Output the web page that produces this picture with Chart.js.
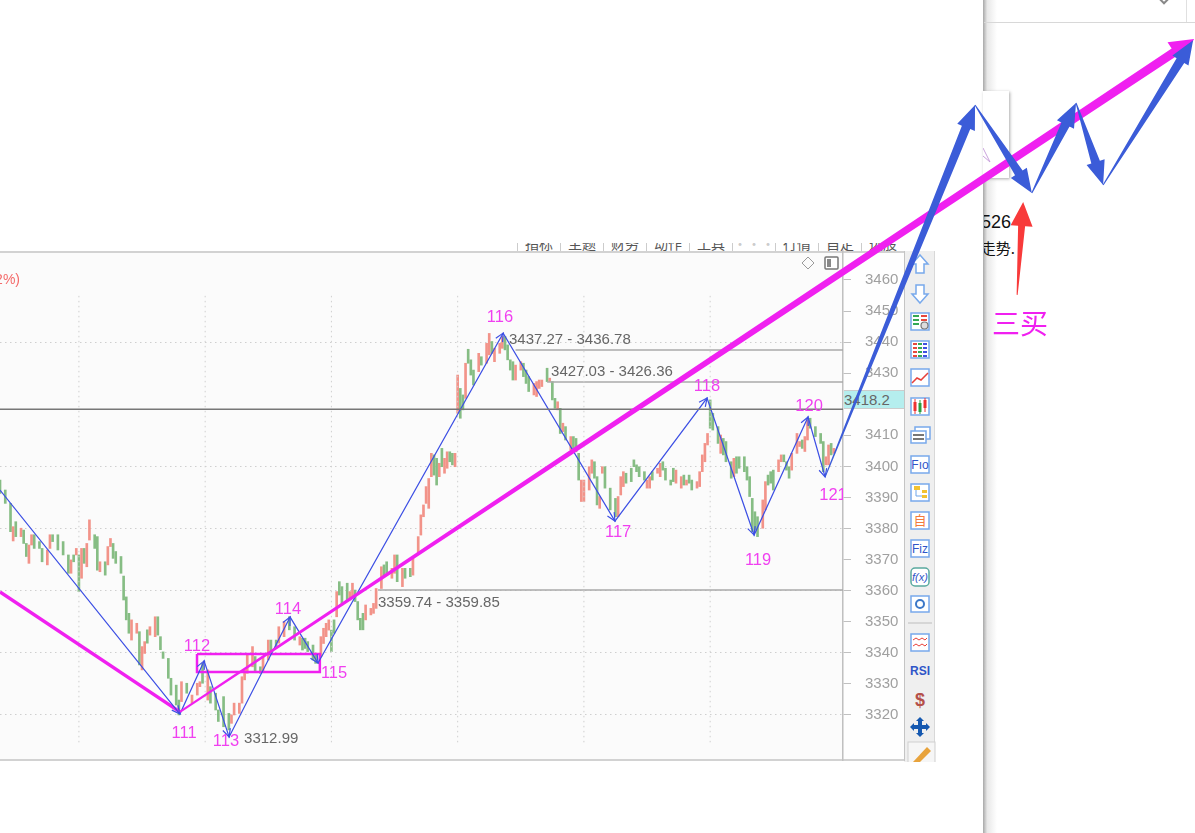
<!DOCTYPE html>
<html lang="zh">
  <head>
    <meta charset="UTF-8" />
    <title>Chart</title>
    <script src="https://cdn.jsdelivr.net/npm/chart.js@4/dist/chart.umd.js"></script>
    <style>
      * {
        box-sizing: border-box;
      }

      body {
        margin: 0;
        width: 1195px;
        height: 833px;
        overflow: hidden;
        position: relative;
        background: #fff;
        font-family: "Liberation Sans", Arial, sans-serif;
      }

      #panel {
        position: absolute;
        left: 0;
        top: 251px;
        width: 905px;
        height: 510px;
        background: #fbfbfb;
        border-top: 2px solid #d2d2d2;
        border-bottom: 2px solid #d2d2d2;
      }

      #axisbg {
        position: absolute;
        left: 844px;
        top: 253px;
        width: 60px;
        height: 506px;
        background: #fefefe;
      }

      #tabs {
        position: absolute;
        left: 517px;
        top: 243px;
        width: 388px;
        height: 8px;
        overflow: hidden;
        display: flex;
      }

      #tabs span {
        width: 43px;
        height: 8px;
        border-left: 1px solid #ccc;
        font: 14px "Noto Sans CJK SC";
        color: #555;
        text-align: center;
        line-height: 0;
      }

      #price {
        position: absolute;
        left: 844px;
        top: 390px;
        width: 60px;
        height: 19px;
        background: #b5eeee;
        border-top: 1px solid #ccc;
        border-bottom: 1px solid #ccc;
        color: #666;
        font-size: 15px;
        line-height: 18px;
        white-space: nowrap;
      }

      #edge {
        position: absolute;
        left: 983px;
        top: 0;
        width: 14px;
        height: 833px;
        background: linear-gradient(to right, #a8a8a8, #e8e8e8 30%, #fff);
      }

      #topline {
        position: absolute;
        left: 984px;
        top: 22px;
        width: 211px;
        height: 1px;
        background: #d8d8d8;
      }

      #topcell {
        position: absolute;
        left: 1186px;
        top: 0;
        width: 1px;
        height: 22px;
        background: #e0e0e0;
      }

      #diamond {
        position: absolute;
        left: 1160px;
        top: -5px;
        width: 8px;
        height: 8px;
        border: 2px solid #888;
        transform: rotate(45deg);
      }

      #popup {
        position: absolute;
        left: 983px;
        top: 91px;
        width: 26px;
        height: 87px;
        background: #fff;
        box-shadow: 1px 1px 3px #aaa;
      }

      #note1,
      #note2 {
        position: absolute;
        left: 984px;
        overflow: hidden;
        white-space: nowrap;
        color: #111;
      }

      #note1 span,
      #note2 span {
        position: absolute;
        right: 0;
      }

      #note1 {
        top: 212px;
        height: 22px;
        width: 27px;
        font: 18px "Liberation Sans";
      }

      #note2 {
        top: 237px;
        height: 22px;
        width: 31px;
        font: 15px "Noto Sans CJK SC";
      }

      #toolbar {
        position: absolute;
        left: 904px;
        top: 251px;
      }

      canvas {
        position: absolute;
        left: 0;
        top: 0;
      }
    </style>
  </head>
  <body>
    <div id="tabs">
      <span>指标</span><span>主题</span><span>财务</span><span>动作</span><span>工具</span><span style="color: #ccc">···</span><span>行情</span><span>自定</span><span>选股</span>
    </div>
    <div id="panel"></div>
    <div id="axisbg"></div>
    <div id="price">3418.2</div>

    <svg id="toolbar" width="32" height="511" viewBox="904 251 32 511">
      <rect x="904" y="251" width="31" height="511" fill="#efefef" />
      <line x1="904.5" y1="251" x2="904.5" y2="761" stroke="#c4c4c4" />
      <line x1="934.5" y1="251" x2="934.5" y2="761" stroke="#d8d8d8" />
      <g fill="#fff" stroke="#78a9ec" stroke-width="1.5">
        <path d="M920 255 L928 264 L924 264 L924 273 L916 273 L916 264 L912 264 Z" />
        <path d="M920 303 L928 294 L924 294 L924 285 L916 285 L916 294 L912 294 Z" />
        <rect x="911" y="313" width="18" height="17" />
        <rect x="911" y="341" width="18" height="17" />
        <rect x="911" y="369" width="18" height="17" />
        <rect x="911" y="398" width="18" height="17" />
        <rect x="915" y="427" width="15" height="12" />
        <rect x="911" y="431" width="15" height="12" />
        <rect x="911" y="456" width="18" height="17" />
        <rect x="911" y="484" width="18" height="17" />
        <rect x="911" y="512" width="18" height="17" />
        <rect x="911" y="540" width="18" height="17" />
        <rect x="911" y="568" width="18" height="18" rx="4" stroke="#5aa99f" />
        <rect x="911" y="596" width="18" height="16" />
        <rect x="911" y="634" width="18" height="17" />
      </g>
      <g stroke-width="2" fill="none">
        <path d="M913 316 h6 M913 320 h6 M913 324 h6" stroke="#35a853" />
        <path d="M921 316 h6 M921 320 h6" stroke="#e6483d" />
        <circle cx="924.5" cy="325.5" r="3.5" fill="#ddd" stroke="#777" stroke-width="1.2" />
        <path d="M913 344 h4 M913 348 h4 M913 352 h4 M913 356 h4" stroke="#e6483d" />
        <path d="M918 344 h4 M918 348 h4 M918 352 h4 M918 356 h4" stroke="#35a853" />
        <path d="M923 344 h4 M923 348 h4 M923 352 h4 M923 356 h4" stroke="#3f51e0" />
      </g>
      <path d="M912 383 L917 378 L921 380 L928 373" fill="none" stroke="#e8403a" stroke-width="1.5" />
      <path d="M915 402 v9 M925 400 v8" stroke="#e33" stroke-width="3" />
      <path d="M920 403 v9" stroke="#2a9d3f" stroke-width="3" />
      <path d="M915 399 v15 M925 398 v14" stroke="#e33" />
      <path d="M920 400 v14" stroke="#2a9d3f" />
      <path d="M913 435 h11 M913 439 h11" stroke="#777" stroke-width="2" />
      <rect x="914" y="486" width="6" height="4" fill="#f2c230" />
      <rect x="922" y="490" width="5" height="3" fill="#f2c230" />
      <rect x="922" y="495" width="5" height="3" fill="#f2c230" />
      <path d="M916 490 v6 h6" fill="none" stroke="#6fa5ea" />
      <path d="M913 640 l3 -2 l3 2 l3 -2 l3 2 l2 -2 M913 646 l3 -2 l3 2 l3 -2 l3 2 l2 -2" fill="none" stroke="#e8403a" />
      <circle cx="920" cy="604" r="4" fill="#fff" stroke="#3c78c8" stroke-width="2" />
      <g text-anchor="middle" font-family="Liberation Sans" fill="#2f55c8">
        <text x="920" y="469" font-size="12">Fıo</text>
        <text x="920" y="553" font-size="12">Fiz</text>
        <text x="920" y="581" font-size="11" font-style="italic">f(x)</text>
        <text x="920" y="675" font-size="12" font-weight="bold">RSI</text>
        <text x="920" y="706" font-size="18" font-weight="bold" fill="#b5504a">$</text>
      </g>
      <text x="920" y="525" text-anchor="middle" font-family="Noto Sans CJK SC" font-size="13" fill="#f47a3c">自</text>
      <line x1="908" y1="623" x2="932" y2="623" stroke="#bdbdbd" />
      <path d="M920 717 l4 4 h-2 v4 h4 v-2 l4 4 l-4 4 v-2 h-4 v4 h2 l-4 4 l-4 -4 h2 v-4 h-4 v2 l-4 -4 l4 -4 v2 h4 v-4 h-2 Z" fill="#1558b0" />
      <rect x="908" y="742" width="27" height="24" fill="#f6f6f6" stroke="#cfcfcf" />
      <path d="M913 762 L927 747 L931 751 L918 764 Z" fill="#e8a33c" />
    </svg>

    <svg style="position: absolute; left: 801px; top: 256px" width="40" height="14">
      <path d="M7 1 L13 7 L7 13 L1 7 Z" fill="none" stroke="#9a9a9a" />
      <rect x="24" y="1" width="13" height="12" rx="1" fill="#fff" stroke="#777" stroke-width="1.5" />
      <rect x="26" y="3" width="4" height="8" fill="#888" />
    </svg>

    <div id="edge"></div>
    <div id="topline"></div>
    <div id="topcell"></div>
    <div id="diamond"></div>
    <div id="popup"></div>
    <svg style="position: absolute; left: 983px; top: 140px" width="12" height="30">
      <path d="M0 8 L7 22 L0 16" fill="none" stroke="#c9a2dc" />
    </svg>
    <div id="note1"><span>526</span></div>
    <div id="note2"><span>走势.</span></div>

    <canvas id="chart" width="1195" height="833"></canvas>

    <script>
      // 48 bars per grid period, slot is the bar number on the time axis
      const slotMax = 320.5;
      const yMin = 3305.5;
      const yMax = 3469.33;

      const barSlots = [
        0, 2, 4, 5, 6, 8, 9, 10, 11, 12, 13, 15, 16, 18, 19, 20, 22, 24, 26, 27, 28, 29, 30, 31, 32, 33, 34, 36, 37, 38,
        40, 41, 42, 43, 44, 46, 47, 48, 49, 50, 52, 53, 54, 55, 56, 57, 59, 60, 61, 62, 64, 65, 67, 68, 69, 71, 73, 75, 76, 77,
        79, 80, 82, 83, 85, 87, 88, 89, 91, 92, 93, 94, 96, 97, 99, 100, 102, 103, 105, 106, 108, 110, 112, 114,
        115, 116, 117, 119, 120, 122, 123, 124, 125, 126, 127, 128, 129, 130, 132, 133, 134, 135, 136, 137, 138, 139, 141, 142, 143, 145,
        146, 147, 149, 150, 151, 153, 154, 156, 157, 159, 160, 161, 162, 163, 164, 165, 166, 167, 168, 169, 170, 171, 172, 173, 174, 175, 176, 177, 178, 179,
        180, 182, 183, 185, 186, 187, 188, 190, 191, 192, 193, 194, 195, 196, 198, 199, 200, 201, 203, 204, 205, 206, 208, 209, 210, 211, 212, 213, 214, 215,
        217, 218, 219, 220, 221, 222, 224, 225, 226, 227, 228, 229, 230, 232, 234, 235, 236, 237, 238, 240, 241, 242, 243, 245, 246, 247, 248, 250, 251, 252,
        253, 255, 256, 257, 259, 260, 261, 262, 263, 265, 266, 267, 268, 269, 270, 271, 273, 274, 275, 276, 278, 279, 280, 281, 283, 284, 285, 286, 287, 288,
        290, 291, 292, 293, 294, 296, 297, 298, 299, 300, 301, 303, 304, 305, 306, 307, 308, 310, 312, 313, 314, 315, 316, 317
      ];
      const barHighs = [
        3395.6, 3392.4, 3388.1, 3380.6, 3382.2, 3380.1, 3379.5, 3375.2, 3374.7, 3378, 3378, 3375.8, 3373.6, 3373.1, 3378, 3378, 3378, 3375.8, 3371.5, 3369.9, 3371.5, 3373.6, 3371.5, 3373.6, 3373.6, 3375.2, 3382.8, 3378, 3377.4, 3369.3,
        3369.3, 3374.2, 3376.8, 3375.2, 3372.6, 3371, 3364.7, 3358, 3352.7, 3350.6, 3349.5, 3346.8, 3342, 3343.6, 3347.4, 3348.4, 3351.6, 3351.6, 3345.2, 3340.3, 3338.2, 3331.8, 3329.6, 3324.8, 3330.7, 3330.2, 3326.4, 3330.2, 3330.7, 3336.6,
        3334.5, 3329.1, 3327, 3321.6, 3325.9, 3320.5, 3320, 3323.8, 3323.8, 3332.3, 3334.5, 3339.3, 3342, 3338.8, 3335.5, 3338.8, 3344.1, 3344.1, 3344.1, 3348.4, 3350, 3351.6, 3348.4, 3345.2,
        3344.7, 3344.7, 3343.6, 3342.5, 3339.3, 3345.2, 3347.9, 3349.5, 3350.6, 3347.3, 3350.6, 3359.7, 3362.9, 3361.3, 3362.4, 3359.7, 3362.4, 3360.2, 3356.5, 3351.1, 3352.7, 3355.4, 3354.3, 3355.9, 3360.7, 3367.7,
        3368.3, 3369.3, 3367.2, 3371.5, 3371.5, 3367.2, 3367.2, 3367.2, 3370.4, 3377.4, 3384.4, 3387.6, 3393.5, 3396.1, 3404.2, 3403.7, 3402.6, 3401, 3405.8, 3402.6, 3404.7, 3404.7, 3404.2, 3404.2, 3429.4, 3425.1, 3423, 3433.2, 3437.7, 3434.3,
        3431, 3436.4, 3435.3, 3439.6, 3442.8, 3440.2, 3438, 3439.6, 3441.8, 3441.8, 3439.1, 3434.3, 3433.7, 3432.6, 3433.7, 3433.2, 3431, 3428.9, 3426.7, 3427.3, 3427.8, 3427.8, 3431.6, 3428.4, 3427.3, 3421.9, 3420.8, 3418.7, 3413.9, 3412.8,
        3409.6, 3409.6, 3409, 3404.2, 3395.6, 3395.6, 3399.9, 3402.1, 3401.5, 3396.7, 3390.3, 3399.9, 3399.9, 3393, 3389.7, 3390.3, 3396.7, 3398.3, 3397.8, 3399.4, 3402.1, 3400.5, 3399.9, 3398.3, 3395.6, 3396.7, 3398.3, 3399.4, 3401, 3401.5,
        3399.4, 3395.6, 3399.4, 3398.8, 3396.7, 3397.2, 3395.6, 3397.2, 3395.6, 3395.1, 3398.3, 3403.7, 3407.4, 3410.6, 3421.4, 3417.1, 3412.8, 3410.1, 3409, 3408, 3401.5, 3402.6, 3403.1, 3403.1, 3403.1, 3399.9, 3396.7, 3389.7, 3385.4, 3383.8,
        3389.2, 3395.1, 3397.2, 3398.3, 3398.8, 3402.1, 3403.7, 3403.7, 3401.5, 3399.9, 3404.2, 3410.6, 3408, 3408.5, 3409.6, 3415, 3415.5, 3412.8, 3410.6, 3408, 3403.1, 3406.9, 3407.4, 3405.8
      ];
      const barLows = [
        3391.3, 3388.1, 3379, 3376, 3377.4, 3377.4, 3375.2, 3371, 3368.8, 3374.7, 3373.6, 3373.6, 3369.3, 3368.3, 3373.6, 3375.8, 3373.1, 3371.5, 3365.6, 3365.6, 3369.3, 3371.5, 3359.7, 3364, 3368.8, 3367.7, 3376.3, 3373.6, 3366.6, 3366.1,
        3365, 3368.3, 3374.2, 3370.4, 3368.8, 3365.6, 3357, 3350.6, 3346.3, 3344.1, 3346.3, 3336.1, 3334.5, 3339.8, 3343.1, 3345.7, 3345.2, 3345.7, 3341, 3338.2, 3331.8, 3326.4, 3323.2, 3320, 3324.3, 3327, 3323.8, 3326.4, 3329.1, 3330.2,
        3324.8, 3323.8, 3321.6, 3317.9, 3316.2, 3315.2, 3317.3, 3320, 3320.5, 3323.8, 3331.3, 3333.4, 3335.5, 3334, 3333.4, 3334, 3337.7, 3339.8, 3342, 3343.1, 3345.2, 3347.4, 3344.1, 3342.5,
        3340.9, 3341.4, 3340.4, 3337.7, 3336.6, 3338.8, 3343, 3345.2, 3347.3, 3340.4, 3346.3, 3351.6, 3358.6, 3355.4, 3357, 3357, 3358.1, 3356.5, 3350.6, 3347.4, 3347.4, 3350.6, 3352.2, 3352.7, 3354.3, 3360.7,
        3364.5, 3365.6, 3364, 3365.6, 3362.9, 3361.3, 3364, 3364.5, 3365, 3372, 3377.9, 3383.8, 3388.1, 3386.5, 3396.7, 3397.2, 3394, 3396.7, 3399.9, 3397.8, 3399.4, 3401.5, 3400.5, 3399.9, 3417.1, 3415.5, 3418.2, 3421.9, 3433.2, 3429.4,
        3426.2, 3430.5, 3432.6, 3433.2, 3435.9, 3436.4, 3433.7, 3436.4, 3438, 3437.5, 3434.3, 3431, 3427.8, 3427.8, 3431, 3428.9, 3426.7, 3424.1, 3423, 3422.5, 3425.1, 3425.7, 3427.3, 3427.3, 3421.4, 3418.7, 3418.2, 3410.6, 3411.2, 3408.5,
        3405.3, 3404.7, 3404.7, 3395.6, 3388.7, 3388.7, 3392.4, 3397.8, 3396.2, 3387.6, 3386.5, 3397.8, 3393, 3386, 3383.8, 3383.8, 3390.8, 3393.5, 3394.6, 3395.1, 3399.9, 3398.3, 3396.7, 3395.6, 3393, 3393, 3395.6, 3397.8, 3396.7, 3398.8,
        3395.6, 3394, 3395.1, 3394.6, 3393, 3394, 3394, 3394.6, 3392.4, 3393, 3393.5, 3398.3, 3401.5, 3406.9, 3412.3, 3411.7, 3407.4, 3404.2, 3403.7, 3401.5, 3396.2, 3396.7, 3397.8, 3399.4, 3398.3, 3395.6, 3390.3, 3379, 3379.5, 3377.4,
        3380.1, 3386, 3394, 3394.6, 3392.4, 3398.3, 3401.5, 3401.5, 3398.8, 3396.2, 3398.8, 3404.2, 3406.4, 3405.8, 3404.8, 3408.5, 3412.3, 3409.6, 3407.4, 3398.3, 3400.5, 3400.5, 3403.7, 3404.2
      ];
      // 1 = closed up (red), 0 = closed down (green)
      const barUps = [
        0, 0, 0, 1, 0, 1, 0, 0, 1, 1, 0, 0, 0, 1, 1, 0, 0, 0, 0, 1, 0, 1, 0, 1, 0, 1, 1, 0, 0, 1,
        0, 1, 1, 0, 0, 0, 0, 0, 0, 1, 1, 0, 1, 1, 0, 1, 1, 0, 0, 0, 0, 0, 0, 0, 1, 0, 1, 1, 1, 0,
        1, 0, 0, 0, 0, 0, 1, 1, 1, 1, 1, 1, 1, 0, 0, 1, 1, 0, 0, 1, 1, 0, 0, 1,
        0, 0, 0, 0, 0, 1, 1, 1, 1, 0, 0, 1, 0, 0, 0, 1, 1, 0, 0, 0, 0, 1, 1, 1, 1, 1,
        0, 0, 1, 1, 0, 1, 0, 0, 1, 1, 1, 1, 1, 1, 1, 0, 0, 1, 0, 1, 1, 0, 0, 1, 1, 0, 0, 1, 0, 0,
        0, 1, 0, 1, 1, 0, 1, 1, 1, 0, 0, 0, 0, 1, 1, 0, 0, 0, 1, 1, 1, 1, 0, 1, 0, 0, 1, 0, 1, 0,
        1, 0, 0, 0, 1, 1, 1, 1, 0, 0, 1, 1, 0, 0, 0, 1, 1, 1, 0, 0, 0, 0, 0, 0, 1, 1, 0, 1, 1, 0,
        0, 0, 0, 1, 1, 0, 1, 0, 0, 1, 1, 1, 1, 1, 0, 0, 0, 1, 0, 0, 0, 1, 0, 0, 0, 0, 0, 0, 0, 0,
        1, 1, 0, 0, 0, 1, 1, 0, 0, 0, 1, 1, 1, 0, 1, 1, 0, 0, 0, 0, 1, 1, 0, 1
      ];

      const yTicks = [3460, 3450, 3440, 3430, 3410, 3400, 3390, 3380, 3370, 3360, 3350, 3340, 3330, 3320];
      const gridPrices = [3440, 3400, 3380, 3360, 3340, 3320];
      const gridSlots = [30, 78, 126, 174, 222, 270];
      const gridTop = 3454.9;
      const gridBottom = 3310.3;

      // the wave the blue line follows, 111 to 121
      const waveSlots = [0, 68.4, 77.6, 87.1, 110.3, 120.9, 191.3, 233.8, 268.8, 286.7, 307.2, 313.7];
      const wavePrices = [3392.4, 3320.3, 3337.4, 3312.9, 3351.5, 3336.7, 3442.9, 3382.4, 3422, 3377.9, 3415.9, 3396.6];

      const waveNames = ["111", "112", "113", "114", "115", "116", "117", "118", "119", "120", "121"];
      const nameSlots = [70, 74.9, 85.9, 109.5, 127, 190.1, 235, 268.8, 288.2, 307.6, 316.7];
      const namePrices = [3313.9, 3342.2, 3311.6, 3354.1, 3333.5, 3447.8, 3378.9, 3425.6, 3369.6, 3419.4, 3390.5];

      const levelPrices = [3437.5, 3427.2, 3360.2];
      const levelSlots = [196, 208, 143.7];
      const lastPrice = 3418.4;

      const noteTexts = ["3437.27 - 3436.78", "3427.03 - 3426.36", "3359.74 - 3359.85", "3312.99"];
      const noteSlots = [193.5, 209.5, 143.7, 92.8];
      const notePrices = [3440.7, 3430.4, 3356, 3312.3];

      const boxSlots = [74.9, 121.6];
      const boxPrices = [3339.6, 3333.8];

      const pinkLeadSlots = [0, 68.4];
      const pinkLeadPrices = [3359.6, 3321];
      const pinkSlots = [68.4, 454];
      const pinkPrices = [3321, 3537.6];

      // the forecast drawn by hand over the screenshot
      const planSlots = [313.7, 370.7, 392.3, 409.1, 419.4, 453.6];
      const planPrices = [3396.6, 3516.3, 3488, 3517, 3490.6, 3537.2];
      const buySlots = [386.7, 389];
      const buyPrices = [3455.2, 3485.1];

      function lineSet(xs, ys, color, width, dash) {
        return {
          type: "line",
          data: xs.map((x, i) => ({ x: x, y: ys[i] })),
          borderColor: color,
          borderWidth: width,
          borderDash: dash || [],
          pointRadius: 0,
          tension: 0,
          clip: false,
          order: 1
        };
      }

      const datasets = [
        {
          type: "bar",
          data: barSlots.map((s, i) => ({ x: s, y: [barLows[i], barHighs[i]] })),
          backgroundColor: barUps.map(u => (u ? "#f29389" : "#86bd84")),
          barThickness: 2,
          grouped: false,
          order: 5
        },
        lineSet([0, slotMax], [lastPrice, lastPrice], "#777", 1.5),
        lineSet(waveSlots, wavePrices, "#3c4fe4", 1.2),
        lineSet(pinkLeadSlots, pinkLeadPrices, "#f020f0", 3.5),
        lineSet(
          [boxSlots[0], boxSlots[1], boxSlots[1], boxSlots[0], boxSlots[0]],
          [boxPrices[0], boxPrices[0], boxPrices[1], boxPrices[1], boxPrices[0]],
          "#f020f0",
          2.5
        )
      ];
      gridSlots.forEach(s => {
        datasets.push(lineSet([s, s], [gridTop, gridBottom], "#cfcfcf", 1, [1.5, 3.5]));
      });
      levelPrices.forEach((p, i) => {
        datasets.push(lineSet([levelSlots[i], slotMax], [p, p], "#aaa", 1.5));
      });

      function taper(ctx, x0, y0, x1, y1, w0, w1, headLen, headW, color) {
        const len = Math.hypot(x1 - x0, y1 - y0);
        const ux = (x1 - x0) / len;
        const uy = (y1 - y0) / len;
        const bx = x1 - ux * headLen;
        const by = y1 - uy * headLen;
        ctx.fillStyle = color;
        ctx.beginPath();
        ctx.moveTo(x0 - (uy * w0) / 2, y0 + (ux * w0) / 2);
        ctx.lineTo(bx - (uy * w1) / 2, by + (ux * w1) / 2);
        ctx.lineTo(bx - (uy * headW) / 2, by + (ux * headW) / 2);
        ctx.lineTo(x1, y1);
        ctx.lineTo(bx + (uy * headW) / 2, by - (ux * headW) / 2);
        ctx.lineTo(bx + (uy * w1) / 2, by - (ux * w1) / 2);
        ctx.lineTo(x0 + (uy * w0) / 2, y0 - (ux * w0) / 2);
        ctx.closePath();
        ctx.fill();
      }

      function openHead(ctx, x0, y0, x1, y1) {
        const a = Math.atan2(y1 - y0, x1 - x0);
        ctx.strokeStyle = "#3c4fe4";
        ctx.lineWidth = 1.2;
        ctx.beginPath();
        ctx.moveTo(x1 - 9 * Math.cos(a - 0.45), y1 - 9 * Math.sin(a - 0.45));
        ctx.lineTo(x1, y1);
        ctx.lineTo(x1 - 9 * Math.cos(a + 0.45), y1 - 9 * Math.sin(a + 0.45));
        ctx.stroke();
      }

      const overlay = {
        id: "overlay",
        afterDatasetsDraw(chart) {
          const ctx = chart.ctx;
          const px = chart.scales.x;
          const py = chart.scales.y;
          const X = v => px.getPixelForValue(v);
          const Y = v => py.getPixelForValue(v);
          ctx.save();

          for (let i = 1; i < waveSlots.length; i++) {
            openHead(ctx, X(waveSlots[i - 1]), Y(wavePrices[i - 1]), X(waveSlots[i]), Y(wavePrices[i]));
          }

          ctx.textBaseline = "middle";
          ctx.font = "15px 'Liberation Sans'";
          ctx.fillStyle = "#666";
          ctx.textAlign = "left";
          noteTexts.forEach((t, i) => ctx.fillText(t, X(noteSlots[i]), Y(notePrices[i])));

          ctx.save();
          ctx.beginPath();
          ctx.rect(0, 0, chart.chartArea.right, 833);
          ctx.clip();
          ctx.font = "16.5px 'Liberation Sans'";
          ctx.fillStyle = "#f040f0";
          ctx.textAlign = "center";
          waveNames.forEach((t, i) => ctx.fillText(t, X(nameSlots[i]), Y(namePrices[i])));
          ctx.restore();

          ctx.font = "14px 'Liberation Sans'";
          ctx.fillStyle = "#f46a6a";
          ctx.textAlign = "right";
          ctx.fillText("2%)", 20, 280);

          taper(ctx, X(pinkSlots[0]), Y(pinkPrices[0]), X(pinkSlots[1]), Y(pinkPrices[1]), 2, 9, 24, 24, "#f020f0");
          for (let i = 1; i < planSlots.length; i++) {
            taper(
              ctx,
              X(planSlots[i - 1]),
              Y(planPrices[i - 1]),
              X(planSlots[i]),
              Y(planPrices[i]),
              1,
              9,
              24,
              19,
              "#3b5cd8"
            );
          }
          taper(ctx, X(buySlots[0]), Y(buyPrices[0]), X(buySlots[1]), Y(buyPrices[1]), 1, 7, 24, 22, "#f83a3a");

          ctx.font = "28px 'Noto Sans CJK SC'";
          ctx.fillStyle = "#f020f0";
          ctx.textAlign = "left";
          ctx.fillText("三买", 992, 323);
          ctx.restore();
        }
      };

      new Chart(document.getElementById("chart"), {
        type: "bar",
        data: { datasets: datasets },
        plugins: [overlay],
        options: {
          responsive: false,
          animation: false,
          layout: { padding: { left: 0, top: 251, right: 291, bottom: 73 } },
          plugins: { legend: { display: false }, tooltip: { enabled: false } },
          scales: {
            x: { type: "linear", display: false, offset: false, min: 0, max: slotMax },
            y: {
              position: "right",
              min: yMin,
              max: yMax,
              afterBuildTicks: s => {
                s.ticks = yTicks.map(v => ({ value: v }));
              },
              afterFit: s => {
                s.width = 61;
              },
              border: { color: "#c0c0c0", width: 1.5, dash: [1.5, 3.5] },
              grid: {
                color: c => (gridPrices.includes(c.tick.value) ? "#cfcfcf" : "transparent"),
                tickColor: "#c0c0c0",
                tickLength: 8,
                tickBorderDash: []
              },
              ticks: {
                autoSkip: false,
                color: "#a0a0a0",
                padding: 14,
                font: { family: "'Liberation Sans'", size: 15 },
                callback: v => String(v)
              }
            }
          }
        }
      });
    </script>
  </body>
</html>
